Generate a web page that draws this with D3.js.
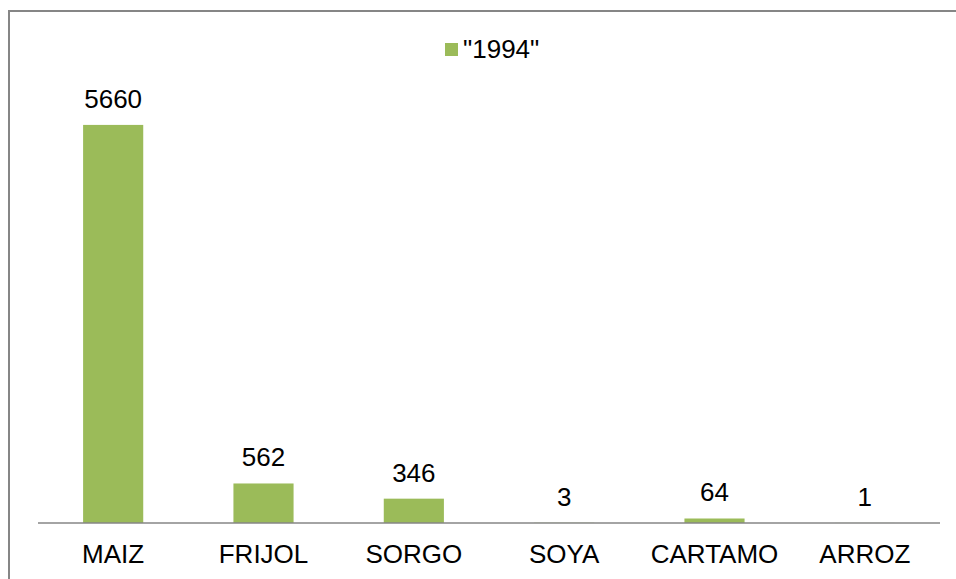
<!DOCTYPE html>
<html><head><meta charset="utf-8">
<script src="https://cdn.jsdelivr.net/npm/d3@7"></script>
<style>body{margin:0;background:#fff}svg{display:block}text{font-family:"Liberation Sans",Arial,sans-serif;fill:#000}</style>
</head><body>
<svg id="c" width="956" height="579"></svg>
<script>
const categories = ["MAIZ","FRIJOL","SORGO","SOYA","CARTAMO","ARROZ"];
const values = [5660,562,346,3,64,1];
const seriesName = "\"1994\"";

const svg = d3.select("#c");
const W = 956, H = 579;
svg.append("rect").attr("x",9).attr("y",11).attr("width",W).attr("height",H)
  .attr("fill","#fff").attr("stroke","#868686").attr("stroke-width",2);

const x = d3.scaleBand().domain(categories).range([38,940]).paddingInner(0.6).paddingOuter(0.3);
const y = d3.scaleLinear().domain([0,6000]).range([523,101]);
const color = "#9BBB59";

svg.selectAll(".bar").data(values).join("rect")
  .attr("x",(d,i)=>x(categories[i])).attr("width",x.bandwidth())
  .attr("y",d=>y(d)).attr("height",d=>y(0)-y(d)).attr("fill",color);

svg.append("line").attr("x1",38).attr("x2",940).attr("y1",y(0)).attr("y2",y(0))
  .attr("stroke","#868686").attr("stroke-width",1.5);

svg.selectAll(".val").data(values).join("text")
  .attr("x",(d,i)=>x(categories[i])+x.bandwidth()/2).attr("y",d=>y(d)-17)
  .attr("text-anchor","middle").attr("font-size",26).text(d=>d);

const xAxis = d3.axisBottom(x).tickSize(0).tickPadding(0);
const g = svg.append("g").attr("transform",`translate(0,${y(0)})`).call(xAxis);
g.select(".domain").remove();
g.selectAll("text").attr("font-size",26).attr("dy",0).attr("y",40)
  .style("font-family","Liberation Sans, Arial, sans-serif").attr("fill","#000");

svg.append("rect").attr("x",445).attr("y",43).attr("width",13).attr("height",13).attr("fill",color);
svg.append("text").attr("x",463).attr("y",58).attr("font-size",26).text(seriesName);
</script>
</body></html>
